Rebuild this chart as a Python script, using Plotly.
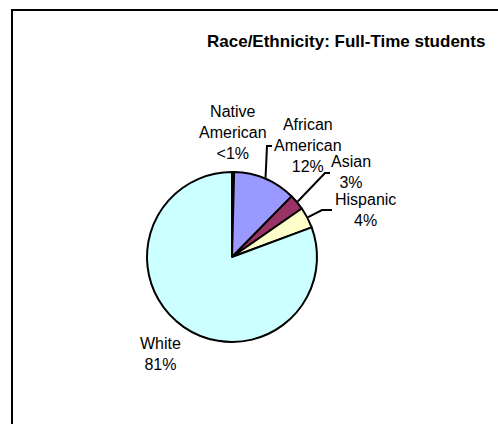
import math
import plotly.graph_objects as go

# Full-time student enrolment by race/ethnicity (percent)
groups = ["Native American", "African American", "Asian", "Hispanic", "White"]
shares = [0.4, 12, 3, 4, 81]
share_text = ["<1%", "12%", "3%", "4%", "81%"]
label_text = ["Native<br>American", "African<br>American", "Asian", "Hispanic", "White"]
colors = ["#660066", "#9999FF", "#993366", "#FFFFCC", "#CCFFFF"]

W, H = 498, 424
CX, CY, R = 232, 257, 85  # pie centre and radius in pixels


def px(x):
    return x / W


def py(y):
    return 1 - y / H


fig = go.Figure(
    go.Pie(
        labels=groups,
        values=shares,
        sort=False,
        direction="clockwise",
        rotation=0,
        textinfo="none",
        hoverinfo="label+percent",
        marker=dict(colors=colors, line=dict(color="black", width=2)),
        domain=dict(x=[px(CX - R), px(CX + R)], y=[py(CY + R), py(CY - R)]),
        showlegend=False,
    )
)

# mid-angle of each slice, clockwise from 12 o'clock
total = sum(shares)
mid_angles = []
acc = 0.0
for v in shares:
    mid_angles.append((acc + v / 2) / total * 2 * math.pi)
    acc += v


def edge_point(i, extra=1.0):
    a = mid_angles[i]
    return CX + (R + extra) * math.sin(a), CY - (R + extra) * math.cos(a)


# label block centres (pixels)
label_pos = {
    0: (233, 132),
    1: (308, 145),
    2: (351, 172),
    3: (365, 210),
    4: (160, 354),
}
# leader-line elbows for the slices labelled away from the rim
elbows = {
    1: [(267, 146), (272, 146)],
    2: [(325, 173), (330, 173)],
    3: [(322, 210), (332, 210)],
}

shapes = [
    dict(type="rect", xref="paper", yref="paper",
         x0=px(12), x1=1.02, y0=-0.02, y1=py(10),
         line=dict(color="black", width=2), fillcolor="rgba(0,0,0,0)"),
]
for i, pts in elbows.items():
    sx, sy = edge_point(i)
    path = f"M {px(sx)} {py(sy)}"
    for (x, y) in pts:
        path += f" L {px(x)} {py(y)}"
    shapes.append(dict(type="path", xref="paper", yref="paper", path=path,
                       line=dict(color="black", width=2)))

annotations = []
for i in range(len(groups)):
    x, y = label_pos[i]
    annotations.append(dict(
        x=px(x), y=py(y), xref="paper", yref="paper",
        text=f"{label_text[i]}<br>{share_text[i]}",
        showarrow=False, xanchor="center", yanchor="middle",
        font=dict(family="Liberation Sans, Arial, sans-serif", size=16, color="black"),
    ))

annotations.append(dict(
    x=px(346), y=py(41), xref="paper", yref="paper",
    text="Race/Ethnicity: Full-Time students",
    showarrow=False, xanchor="center", yanchor="middle",
    font=dict(family="Liberation Sans, Arial, sans-serif", size=17,
              color="black", weight="bold"),
))

fig.update_layout(
    width=W, height=H,
    margin=dict(l=0, r=0, t=0, b=0),
    paper_bgcolor="white",
    plot_bgcolor="white",
    shapes=shapes,
    annotations=annotations,
)

fig.write_html("out.html")
